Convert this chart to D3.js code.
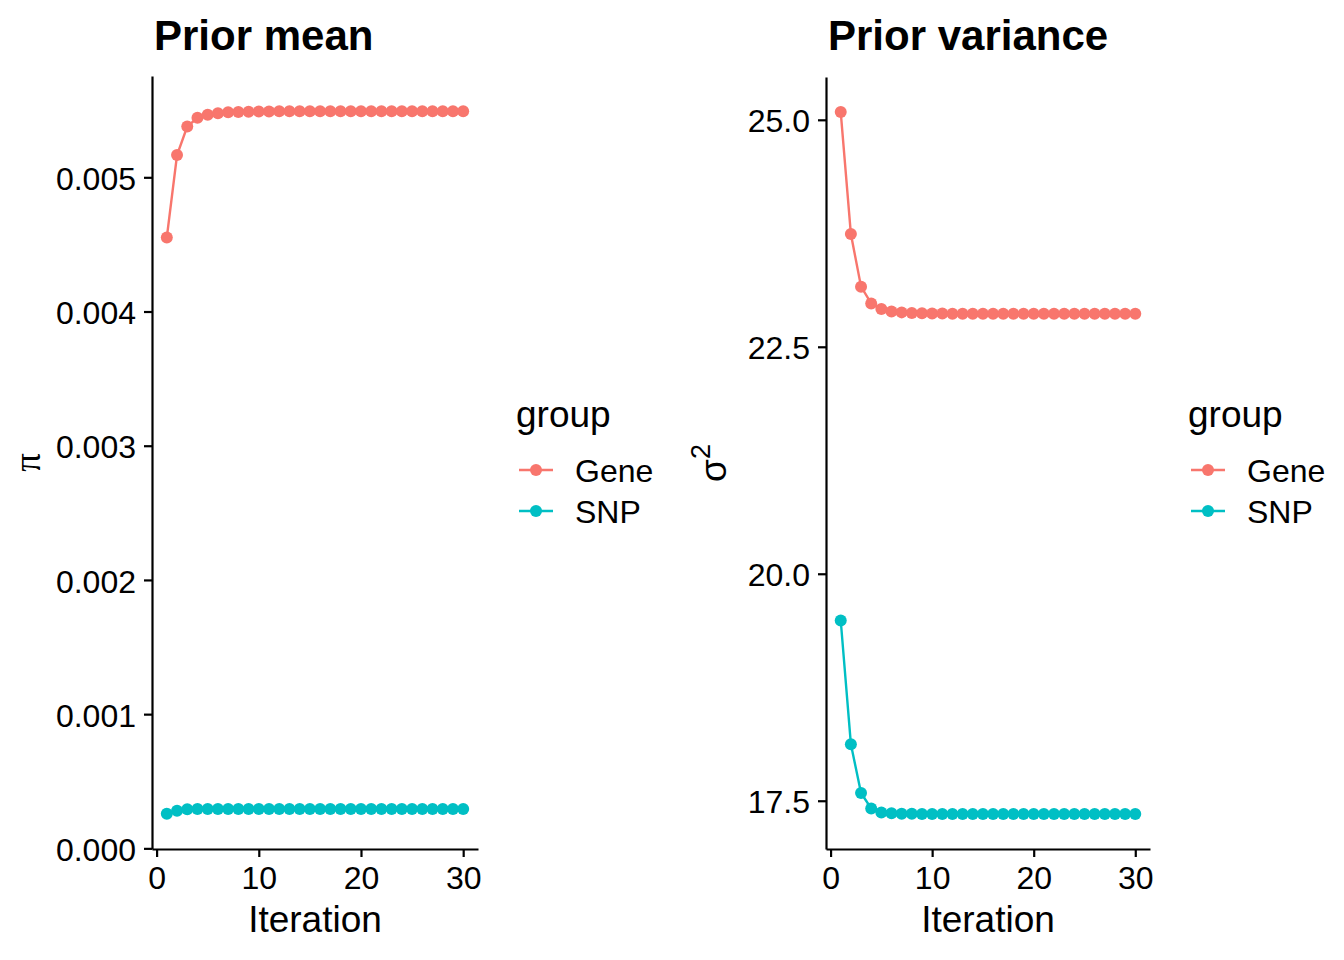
<!DOCTYPE html>
<html>
<head>
<meta charset="utf-8">
<script src="https://cdn.jsdelivr.net/npm/d3@7"></script>
<style>
  body { margin:0; background:#fff; }
  svg { font-family: "Liberation Sans", Arial, Helvetica, sans-serif; }
</style>
</head>
<body>
<svg id="chart" width="1344" height="960"></svg>
<script>
var iterations = [1,2,3,4,5,6,7,8,9,10,11,12,13,14,15,16,17,18,19,20,21,22,23,24,25,26,27,28,29,30];
var groups = ['Gene','SNP'];
var colors = ['#F8766D','#00BFC4'];

// prior mean (pi)
var genePi = [0.004552,0.005166,0.005378,0.005443,0.005466,0.005478,0.005484,0.005487,0.005489,0.005490,
              0.005491,0.005492,0.005492,0.005493,0.005493,0.005493,0.005493,0.005493,0.005493,0.005493,
              0.005493,0.005493,0.005493,0.005493,0.005493,0.005493,0.005493,0.005493,0.005493,0.005493];
var snpPi  = [0.000257,0.000281,0.000291,0.000293,0.000294,0.000294,0.000294,0.000294,0.000294,0.000294,
              0.000294,0.000294,0.000294,0.000294,0.000294,0.000294,0.000294,0.000294,0.000294,0.000294,
              0.000294,0.000294,0.000294,0.000294,0.000294,0.000294,0.000294,0.000294,0.000294,0.000294];
// prior variance (sigma^2)
var geneVar = [25.085,23.742,23.162,22.978,22.916,22.889,22.879,22.873,22.869,22.867,
               22.866,22.865,22.864,22.864,22.864,22.864,22.864,22.864,22.864,22.864,
               22.864,22.864,22.864,22.864,22.864,22.864,22.864,22.864,22.864,22.864];
var snpVar  = [19.485,18.123,17.585,17.415,17.371,17.362,17.358,17.356,17.355,17.355,
               17.355,17.355,17.355,17.355,17.355,17.355,17.355,17.355,17.355,17.355,
               17.355,17.355,17.355,17.355,17.355,17.355,17.355,17.355,17.355,17.355];

var xTicks = [0,10,20,30];
var piTicks = [0,0.001,0.002,0.003,0.004,0.005];
var varTicks = [17.5,20.0,22.5,25.0];

var svg = d3.select('#chart');

function expand(ext){
  var pad = (ext[1]-ext[0])*0.05;
  return [ext[0]-pad, ext[1]+pad];
}

function panel(opt){
  var g = svg.append('g');
  var xd = expand(d3.extent(iterations));
  var x = d3.scaleLinear().domain(xd).range([opt.left, opt.right]);
  var all = opt.series[0].concat(opt.series[1]);
  var y = d3.scaleLinear().domain(expand(d3.extent(all))).range([opt.bottom, opt.top]);

  var xaxis = d3.axisBottom(x).tickValues(xTicks).tickSize(8).tickSizeOuter(0).tickPadding(9)
      .tickFormat(d3.format('d'));
  var yaxis = d3.axisLeft(y).tickValues(opt.ticks).tickSize(8).tickSizeOuter(0).tickPadding(8)
      .tickFormat(d3.format(opt.fmt));

  var gx = g.append('g').attr('transform','translate(0,'+opt.bottom+')').call(xaxis);
  var gy = g.append('g').attr('transform','translate('+opt.left+',0)').call(yaxis);
  [gx,gy].forEach(function(a){
    a.select('.domain').attr('stroke','#000').attr('stroke-width',2.2);
    a.selectAll('.tick line').attr('stroke','#000').attr('stroke-width',2.2);
    a.selectAll('.tick text').attr('fill','#000').style('font-size','32px')
      .style('font-family','"Liberation Sans", Arial, Helvetica, sans-serif');
  });
  gy.selectAll('.tick text').attr('dy','0.38em');

  var line = d3.line().x(function(d,i){ return x(iterations[i]); }).y(function(d){ return y(d); });
  opt.series.forEach(function(s,k){
    g.append('path').attr('d',line(s)).attr('fill','none')
      .attr('stroke',colors[k]).attr('stroke-width',2.4);
  });
  opt.series.forEach(function(s,k){
    g.selectAll('.pt'+k).data(s).enter().append('circle')
      .attr('cx',function(d,i){ return x(iterations[i]); })
      .attr('cy',function(d){ return y(d); })
      .attr('r',6).attr('fill',colors[k]);
  });

  // title
  g.append('text').attr('x',opt.left+2).attr('y',50).text(opt.title)
    .style('font-size','42px').style('font-weight','bold');
  // x title
  g.append('text').attr('x',(opt.left+opt.right)/2).attr('y',932).attr('text-anchor','middle')
    .style('font-size','37px').text('Iteration');
  // y title
  var yt = g.append('text').attr('transform','translate('+opt.ytx+','+((opt.top+opt.bottom)/2)+') rotate(-90)')
    .attr('text-anchor','middle').style('font-size','37px');
  opt.ylab(yt);

  // legend
  var lx = opt.right + 38;
  g.append('text').attr('x',lx).attr('y',427).style('font-size','37px').text('group');
  groups.forEach(function(name,k){
    var cy = 470 + k*41;
    g.append('line').attr('x1',lx+3).attr('x2',lx+37).attr('y1',cy).attr('y2',cy)
      .attr('stroke',colors[k]).attr('stroke-width',2.4);
    g.append('circle').attr('cx',lx+20).attr('cy',cy).attr('r',6).attr('fill',colors[k]);
    g.append('text').attr('x',lx+59).attr('y',cy).attr('dy','0.36em')
      .style('font-size','32px').text(name);
  });
}

panel({left:152, right:478, top:76, bottom:849, series:[genePi, snpPi], ticks:piTicks, fmt:'.3f',
  title:'Prior mean', ytx:40,
  ylab:function(t){ t.style('font-family','"Liberation Serif", serif').text('\u03c0'); }});

panel({left:826, right:1150, top:77, bottom:849, series:[geneVar, snpVar], ticks:varTicks, fmt:'.1f',
  title:'Prior variance', ytx:726,
  ylab:function(t){
    t.append('tspan').text('\u03c3');
    t.append('tspan').attr('dy',-16).style('font-size','27px').text('2');
  }});
</script>
</body>
</html>
